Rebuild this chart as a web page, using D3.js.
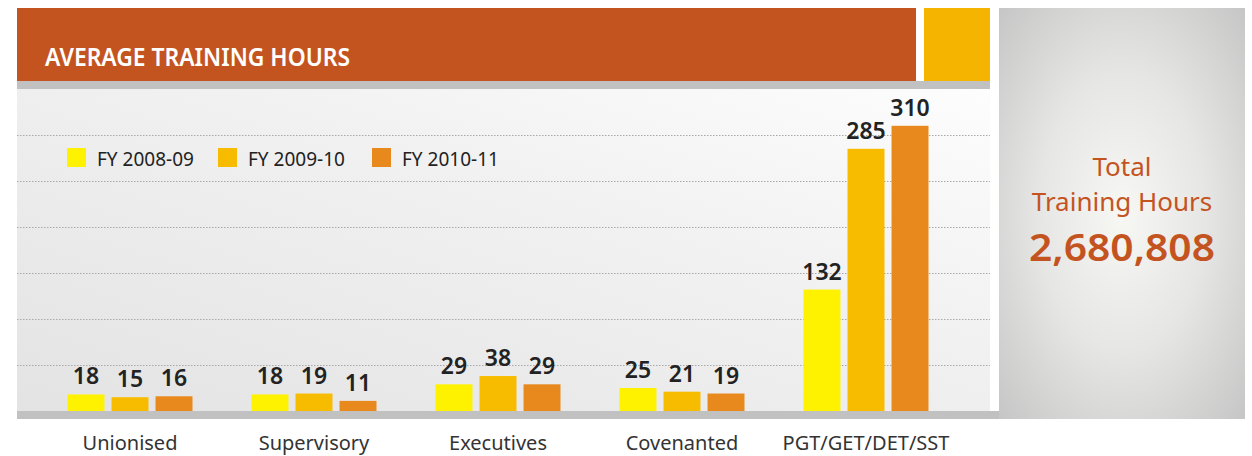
<!DOCTYPE html>
<html>
<head>
<meta charset="utf-8">
<script src="https://cdn.jsdelivr.net/npm/d3@7"></script>
<style>
  body { margin: 0; background: #fff; }
  svg text { font-family: "Noto Sans", "Open Sans", sans-serif; }
</style>
</head>
<body>
<div id="chart"></div>
<script>
// Average training hours by employee category
const categories = ["Unionised", "Supervisory", "Executives", "Covenanted", "PGT/GET/DET/SST"];
const seriesNames = ["FY 2008-09", "FY 2009-10", "FY 2010-11"];
const fy0809 = [18, 18, 29, 25, 132];
const fy0910 = [15, 19, 38, 21, 285];
const fy1011 = [16, 11, 29, 19, 310];
const gridTicks = [50, 100, 150, 200, 250, 300];
const totalLabel = ["Total", "Training Hours"];
const totalValue = "2,680,808";

const seriesValues = [fy0809, fy0910, fy1011];
const colors = ["#FFF200", "#F7BC00", "#E8891E"];

const W = 1252, H = 456;
const svg = d3.select("#chart").append("svg")
    .attr("width", W)
    .attr("height", H);

const defs = svg.append("defs");

// plot background gradient
let lg = defs.append("linearGradient")
    .attr("id", "plotBg")
    .attr("x1", "0%").attr("y1", "100%")
    .attr("x2", "100%").attr("y2", "0%");
lg.append("stop").attr("offset", "0%").attr("stop-color", "#e3e3e3");
lg.append("stop").attr("offset", "60%").attr("stop-color", "#f1f1f1");
lg.append("stop").attr("offset", "100%").attr("stop-color", "#fdfdfd");

// right panel radial gradient
let rg = defs.append("radialGradient")
    .attr("id", "panelBg")
    .attr("cx", "50%").attr("cy", "50%").attr("r", "75%");
rg.append("stop").attr("offset", "0%").attr("stop-color", "#f7f7f4");
rg.append("stop").attr("offset", "45%").attr("stop-color", "#e6e6e5");
rg.append("stop").attr("offset", "100%").attr("stop-color", "#c2c2c2");

// header
svg.append("rect").attr("x", 17).attr("y", 8).attr("width", 899).attr("height", 73).attr("fill", "#C4541F");
svg.append("rect").attr("x", 924).attr("y", 8).attr("width", 66).attr("height", 73).attr("fill", "#F5B400");
svg.append("rect").attr("x", 17).attr("y", 81).attr("width", 973).attr("height", 8).attr("fill", "#c1c1c1");
svg.append("text")
    .attr("x", 45).attr("y", 66)
    .attr("fill", "#fff")
    .attr("font-size", 26)
    .attr("font-weight", 600)
    .attr("textLength", 305)
    .attr("lengthAdjust", "spacingAndGlyphs")
    .text("AVERAGE TRAINING HOURS");

// plot area
svg.append("rect").attr("x", 17).attr("y", 89).attr("width", 973).attr("height", 322).attr("fill", "url(#plotBg)");

const y = d3.scaleLinear().domain([0, 300]).range([411, 135]);

const x0 = d3.scaleBand().domain(categories).range([38, 958]);
const x1 = d3.scaleBand().domain(seriesNames).range([0, 125]).paddingInner(0.16);

// dotted gridlines
svg.append("g").selectAll("line")
    .data(gridTicks)
    .join("line")
    .attr("x1", 17).attr("x2", 990)
    .attr("y1", d => Math.round(y(d)) + 0.5)
    .attr("y2", d => Math.round(y(d)) + 0.5)
    .attr("stroke", "#a9a9a9")
    .attr("stroke-width", 1)
    .attr("stroke-dasharray", "1.5,1.5");

// bars
const groups = svg.append("g").selectAll("g")
    .data(categories)
    .join("g")
    .attr("transform", d => `translate(${x0(d) + x0.bandwidth() / 2 - 62.5},0)`);

groups.selectAll("rect")
    .data((c, i) => seriesNames.map((s, j) => ({s, j, v: seriesValues[j][i]})))
    .join("rect")
    .attr("x", d => x1(d.s))
    .attr("width", x1.bandwidth())
    .attr("y", d => y(d.v))
    .attr("height", d => y(0) - y(d.v))
    .attr("fill", d => colors[d.j]);

groups.selectAll("text")
    .data((c, i) => seriesNames.map((s, j) => ({s, j, v: seriesValues[j][i]})))
    .join("text")
    .attr("x", d => x1(d.s) + x1.bandwidth() / 2)
    .attr("y", d => y(d.v) - 10)
    .attr("text-anchor", "middle")
    .attr("font-size", 23)
    .attr("font-weight", 600)
    .attr("fill", "#222")
    .text(d => d.v);

// baseline
svg.append("rect").attr("x", 17).attr("y", 411).attr("width", 982).attr("height", 8).attr("fill", "#c1c1c1");

// category labels
svg.append("g").selectAll("text")
    .data(categories)
    .join("text")
    .attr("x", d => x0(d) + x0.bandwidth() / 2)
    .attr("y", 450)
    .attr("text-anchor", "middle")
    .attr("font-size", 20)
    .attr("fill", "#333")
    .text(d => d);

// legend
const legendX = [67, 218, 372];
const legend = svg.append("g").selectAll("g")
    .data(seriesNames)
    .join("g")
    .attr("transform", (d, i) => `translate(${legendX[i]},148)`);
legend.append("rect")
    .attr("width", 19).attr("height", 19)
    .attr("fill", (d, i) => colors[i]);
legend.append("text")
    .attr("x", 30).attr("y", 18)
    .attr("font-size", 19)
    .attr("fill", "#222")
    .text(d => d);

// right panel
svg.append("rect").attr("x", 999).attr("y", 8).attr("width", 246).attr("height", 411).attr("fill", "url(#panelBg)");
svg.append("g").selectAll("text")
    .data(totalLabel)
    .join("text")
    .attr("x", 1122)
    .attr("y", (d, i) => 176 + i * 35)
    .attr("text-anchor", "middle")
    .attr("font-size", 26)
    .attr("fill", "#C4541F")
    .text(d => d);
svg.append("text")
    .attr("x", 1122).attr("y", 261)
    .attr("text-anchor", "middle")
    .attr("font-size", 37)
    .attr("font-weight", 600)
    .attr("textLength", 186)
    .attr("lengthAdjust", "spacingAndGlyphs")
    .attr("fill", "#C4541F")
    .text(totalValue);
</script>
</body>
</html>
